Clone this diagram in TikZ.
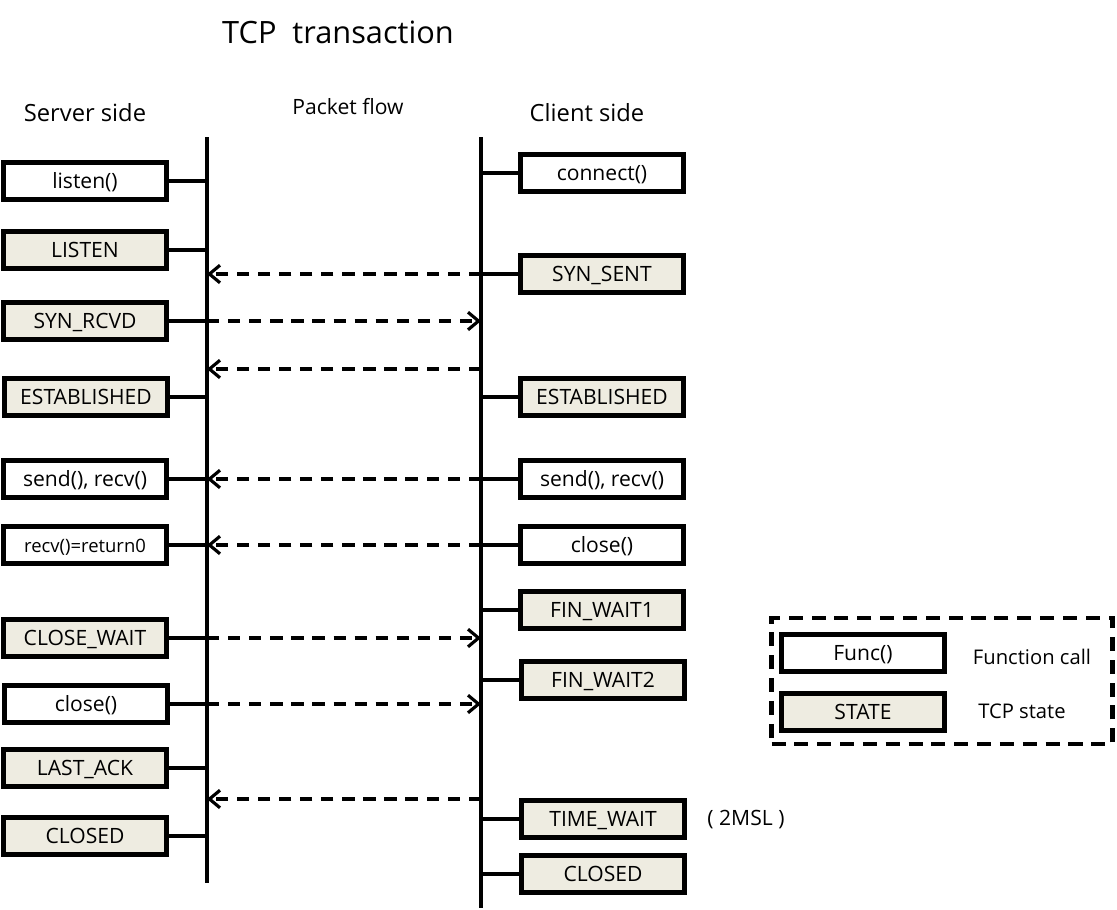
\documentclass[tikz,border=0pt]{standalone}
\usepackage{fontspec}
\setmainfont{Open Sans}
\usetikzlibrary{arrows.meta}
\definecolor{statefill}{HTML}{EEECE1}
\tikzset{
  box/.style={draw, line width=2.6pt, minimum width=3.26cm, minimum height=0.74cm,
    inner sep=0pt, text height=10pt, text depth=1.4pt, font=\fontsize{12}{14}\selectfont},
  func/.style={box, fill=white},
  state/.style={box, fill=statefill},
  life/.style={line width=2pt},
  flow/.style={line width=2pt, dash pattern=on 7pt off 5pt,
    -{Straight Barb[length=6pt,width=10pt,line width=1.8pt]}},
  caption/.style={inner sep=0pt},
}
\begin{document}
\begin{tikzpicture}[x=0.02cm,y=-0.02cm]
                \useasboundingbox (0,0) rectangle (1117,910);
                
                % Headings
                \node[caption, font=\fontsize{17.5}{20}\selectfont] (title) at (338,32) {TCP\ \ transaction};
                \node[caption, font=\fontsize{13.5}{15}\selectfont] (server) at (85,113) {Server side};
                \node[caption, font=\fontsize{12}{14}\selectfont] (packet) at (348,107) {Packet flow};
                \node[caption, font=\fontsize{13.5}{15}\selectfont] (client) at (587,113) {Client side};
                
                % Drawing the two life lines
                \coordinate (srvtop) at (207,137);
                \coordinate (srvbot) at (207,883);
                \coordinate (clitop) at (481,137);
                \coordinate (clibot) at (481,908);
                \draw [life] (srvtop) -- (srvbot);%
                \draw [life] (clitop) -- (clibot);%
                
                % Server side boxes
                \node[func] (listen) at (85,181) {listen()};
                \node[state] (slisten) at (85,250) {LISTEN};
                \node[state] (synrcvd) at (85,321) {SYN\_RCVD};
                \node[state] (sestab) at (86,397) {ESTABLISHED};
                \node[func] (ssend) at (85,479) {send(), recv()};
                \node[func, font=\fontsize{10.5}{12}\selectfont] (recvzero) at (85,545) {recv()=return0};
                \node[state] (closewait) at (85,638) {CLOSE\_WAIT};
                \node[func] (sclose) at (86,704) {close()};
                \node[state] (lastack) at (85,768) {LAST\_ACK};
                \node[state] (sclosed) at (85,836) {CLOSED};
                
                % Client side boxes
                \node[func] (connect) at (602,173) {connect()};
                \node[state] (synsent) at (602,274) {SYN\_SENT};
                \node[state] (cestab) at (602,397) {ESTABLISHED};
                \node[func] (csend) at (602,479) {send(), recv()};
                \node[func] (cclose) at (602,545) {close()};
                \node[state] (finwaita) at (602,610) {FIN\_WAIT1};
                \node[state] (finwaitb) at (603,680) {FIN\_WAIT2};
                \node[state] (timewait) at (603,819) {TIME\_WAIT};
                \node[state] (cclosed) at (603,874) {CLOSED};
                \node[caption, font=\fontsize{12}{14}\selectfont] (msl) at (746,820) {(\ 2MSL\ )};
                
                % Tying server boxes to the server line
                \foreach \b in {listen,slisten,synrcvd,sestab,ssend,recvzero,closewait,sclose,lastack,sclosed}
                  \draw [life] (\b.east) -- (\b.east -| srvtop);%
                
                % Tying client boxes to the client line
                \foreach \b in {connect,synsent,cestab,csend,cclose,finwaita,finwaitb,timewait,cclosed}
                  \draw [life] (\b.west -| clitop) -- (\b.west);%
                
                % Packets from client to server
                \coordinate (ackone) at (481,369);
                \coordinate (acktwo) at (481,799);
                \draw [flow] (synsent.west -| clitop) -- (synsent.west -| srvtop);%
                \draw [flow] (ackone) -- (ackone -| srvtop);%
                \draw [flow] (csend.west -| clitop) -- (csend.west -| srvtop);%
                \draw [flow] (cclose.west -| clitop) -- (cclose.west -| srvtop);%
                \draw [flow] (acktwo) -- (acktwo -| srvtop);%
                
                % Packets from server to client
                \draw [flow] (synrcvd.east -| srvtop) -- (synrcvd.east -| clitop);%
                \draw [flow] (closewait.east -| srvtop) -- (closewait.east -| clitop);%
                \draw [flow] (sclose.east -| srvtop) -- (sclose.east -| clitop);%
                
                % Legend
                \node[draw, line width=2.6pt, dash pattern=on 8pt off 5pt, minimum width=6.82cm,
                  minimum height=2.52cm, inner sep=0pt] (legend) at (942,681) {};
                \node[func] (legfunc) at (863,653) {Func()};
                \node[state] (legstate) at (863,712) {STATE};
                \node[caption, font=\fontsize{11.5}{13}\selectfont] (legfunctxt) at (1032,657) {Function call};
                \node[caption, font=\fontsize{11.5}{13}\selectfont] (legstatetxt) at (1022,711) {TCP state};
            \end{tikzpicture}
\end{document}
